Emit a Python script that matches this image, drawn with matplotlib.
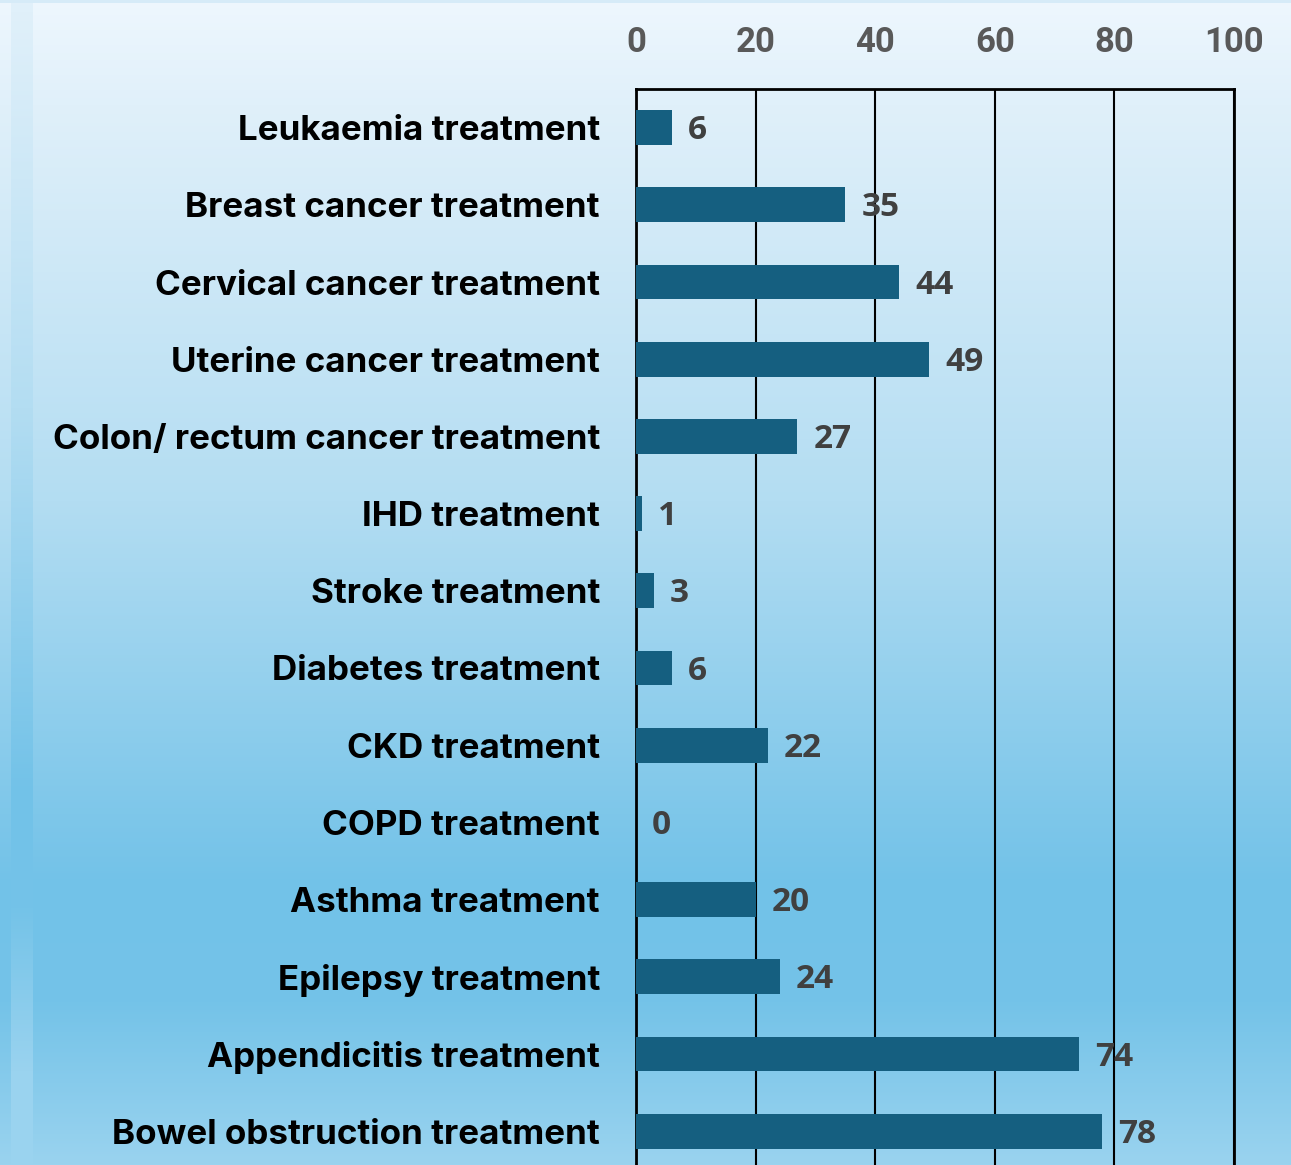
import numpy as np
import matplotlib.pyplot as plt
from matplotlib.colors import to_rgb

categories = [
    "Leukaemia treatment", "Breast cancer treatment", "Cervical cancer treatment",
    "Uterine cancer treatment", "Colon/ rectum cancer treatment", "IHD treatment",
    "Stroke treatment", "Diabetes treatment", "CKD treatment", "COPD treatment",
    "Asthma treatment", "Epilepsy treatment", "Appendicitis treatment",
    "Bowel obstruction treatment",
]
values = [6, 35, 44, 49, 27, 1, 3, 6, 22, 0, 20, 24, 74, 78]
x_ticks = [0, 20, 40, 60, 80, 100]

W, H = 1291, 1165
fig = plt.figure(figsize=(W / 100, H / 100), dpi=100)

# background gradient (top pale -> mid blue -> lighter at bottom)
stops_y = [0.0, 0.09, 0.43, 0.76, 0.86, 1.0]
stops_c = ["#eef7fe", "#e0f0fa", "#b3ddf2", "#72c2e8", "#74c3e8", "#9ad3ef"]
ys = np.linspace(0, 1, H)
cols = np.array([to_rgb(c) for c in stops_c])
grad = np.stack([np.interp(ys, stops_y, cols[:, k]) for k in range(3)], axis=-1)
img = np.repeat(grad[:, None, :], W, axis=1)
# left decorative strip, a little bluer than the rest
shifted = np.stack([np.interp(np.clip(ys + 0.08, 0, 1), stops_y, cols[:, k])
                    for k in range(3)], axis=-1)
img[:, 11:33, :] = shifted[:, None, :]
img[:3, :, :] = np.array(to_rgb("#d6ebf8"))
bg = fig.add_axes([0, 0, 1, 1])
bg.imshow(img, aspect="auto", extent=[0, 1, 0, 1])
bg.set_axis_off()

left, right = 636 / W, 1234 / W
top = 1 - 89 / H
bottom = 1 - (89 + 14 * 77.2) / H
ax = fig.add_axes([left, bottom, right - left, top - bottom])
ax.patch.set_alpha(0)

y = np.arange(len(categories))
ax.barh(y, values, height=0.45, color="#155f80", zorder=3)
for yi, v in zip(y, values):
    ax.text(v + 2.7, yi + 0.04, str(v), va="center", ha="left",
            fontsize=24, fontweight="bold", color="#404040",
            family=["Open Sans", "DejaVu Sans"], zorder=4)

ax.set_xlim(0, 100)
ax.set_ylim(len(categories) - 0.5, -0.5)
ax.set_xticks(x_ticks)
ax.xaxis.tick_top()
ax.tick_params(axis="x", length=0, pad=21.5)
ax.tick_params(axis="y", length=0, pad=26)
ax.set_yticks(y)
ax.set_yticklabels(categories, fontsize=25.2, fontweight="bold",
                   family=["Inter", "DejaVu Sans"], color="black")
for lbl in ax.get_xticklabels():
    lbl.set_fontsize(25)
    lbl.set_fontweight("bold")
    lbl.set_color("#595959")
    lbl.set_family(["Roboto", "DejaVu Sans"])

ax.grid(axis="x", color="black", linewidth=1.5, zorder=1)
for side in ["left", "top", "right"]:
    ax.spines[side].set_color("black")
    ax.spines[side].set_linewidth(2)
ax.spines["bottom"].set_visible(False)

fig.savefig("out.png", dpi=100)
